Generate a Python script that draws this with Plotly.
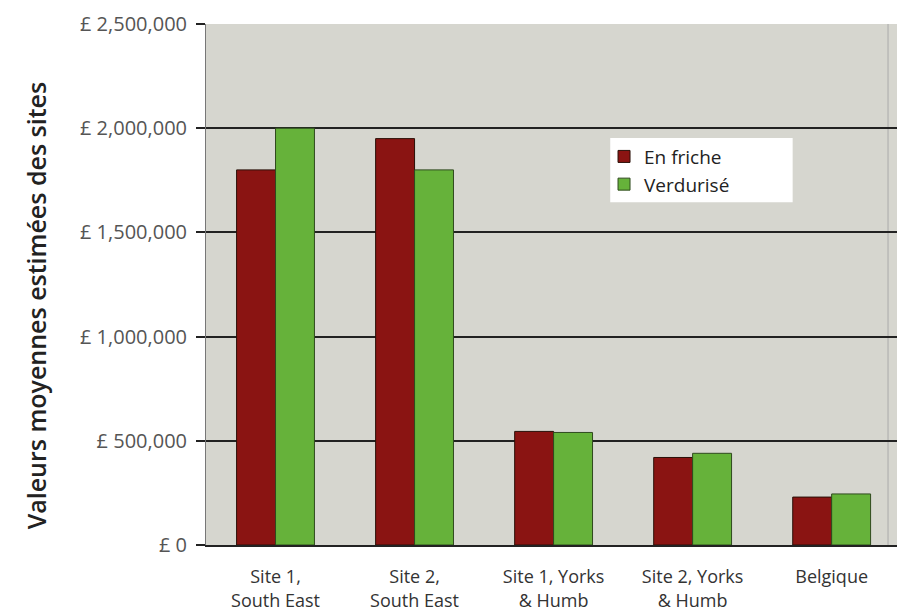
import plotly.graph_objects as go

categories = ["Site 1,<br>South East", "Site 2,<br>South East", "Site 1, Yorks<br>& Humb",
              "Site 2, Yorks<br>& Humb", "Belgique"]
en_friche = [1800000, 1950000, 545000, 420000, 230000]
verdurise = [2000000, 1800000, 540000, 440000, 245000]
y_tickvals = [0, 500000, 1000000, 1500000, 2000000, 2500000]
y_ticktext = ["£ 0", "£ 500,000", "£ 1,000,000", "£ 1,500,000", "£ 2,000,000", "£ 2,500,000"]

fig = go.Figure()
fig.add_trace(go.Bar(x=categories, y=en_friche, name="En friche",
                     marker=dict(color="#8a1412", line=dict(color="#2a1008", width=1))))
fig.add_trace(go.Bar(x=categories, y=verdurise, name="Verdurisé",
                     marker=dict(color="#66b23a", line=dict(color="#2f4a1e", width=1))))

fig.update_layout(
    width=897, height=614,
    margin=dict(l=206, r=0, t=24, b=69),
    paper_bgcolor="white",
    plot_bgcolor="#d6d6cf",
    barmode="group",
    bargap=0.44,
    bargroupgap=0,
    font=dict(family="Open Sans", size=13, color="#444"),
    showlegend=True,
    legend=dict(x=0.576, y=0.782, xanchor="left", yanchor="top",
                bgcolor="rgba(0,0,0,0)", borderwidth=0,
                font=dict(family="Open Sans", size=19, color="#222"),
                itemwidth=30, tracegroupgap=0),
    xaxis=dict(range=[-0.5, 4.47], showgrid=False, showline=True,
               linecolor="#222", linewidth=1.5, ticks="", tickfont=dict(size=18, color="#333"),
               ticklabelstandoff=15),
    yaxis=dict(range=[0, 2500000], tickvals=y_tickvals, ticktext=y_ticktext,
               showgrid=True, gridcolor="#222", gridwidth=2,
               ticks="outside", ticklen=9, tickcolor="#222", tickwidth=2,
               showline=True, linecolor="#777", linewidth=1,
               tickfont=dict(size=20, color="#555"), zeroline=False,
               ticklabelstandoff=5),
    shapes=[
        dict(type="rect", xref="paper", yref="paper", x0=0.585, x1=0.849, y0=0.658, y1=0.781,
             fillcolor="white", line=dict(width=0), layer="above"),
        dict(type="line", xref="paper", yref="paper", x0=0.987, x1=0.987, y0=0, y1=1,
             line=dict(color="#aaa", width=1), layer="below"),
    ],
    annotations=[dict(text="Valeurs moyennes estimées des sites", textangle=-90,
                      xref="paper", yref="paper", x=-0.246, y=0.46,
                      xanchor="center", yanchor="middle", showarrow=False,
                      font=dict(family="Open Sans", size=25, color="#222", weight=600))],
)

fig.write_html("out.html")
